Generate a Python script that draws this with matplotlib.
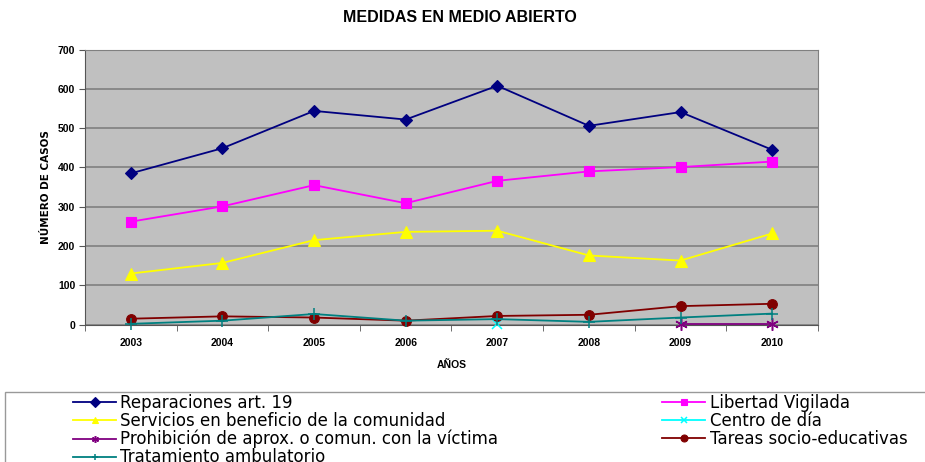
import matplotlib
matplotlib.use("Agg")
import matplotlib.pyplot as plt
from matplotlib.patches import Rectangle
from matplotlib import font_manager
import numpy as np

years = ["2003", "2004", "2005", "2006", "2007", "2008", "2009", "2010"]
reparaciones = [385, 449, 544, 522, 608, 506, 541, 445]
libertad = [262, 301, 355, 309, 366, 390, 401, 415]
servicios = [130, 157, 215, 236, 239, 176, 163, 232]
centro_dia = [None, None, None, None, 1, None, None, None]
prohibicion = [None, None, None, None, None, None, 2, 2]
tareas = [15, 21, 18, 10, 22, 25, 47, 53]
tratamiento = [2, 10, 27, 10, 14, 7, 18, 28]

series = [
    ("Reparaciones art. 19", reparaciones, "#000080", "D", 6),
    ("Libertad Vigilada", libertad, "#FF00FF", "s", 7),
    ("Servicios en beneficio de la comunidad", servicios, "#FFFF00", "^", 8),
    ("Centro de día", centro_dia, "#00FFFF", "x", 7),
    ("Prohibición de aprox. o comun. con la víctima", prohibicion, "#800080", (6, 2, 0), 9),
    ("Tareas socio-educativas", tareas, "#800000", "o", 7),
    ("Tratamiento ambulatorio", tratamiento, "#008080", "+", 9),
]

fig = plt.figure(figsize=(9.25, 4.62), dpi=100)
ax = fig.add_axes([0.0919, 0.2974, 0.7924, 0.5952])
ax.set_facecolor("#C0C0C0")

x = np.arange(len(years))
handles = {}
for name, vals, col, mk, ms in series:
    y = np.array([np.nan if v is None else v for v in vals], dtype=float)
    thin = mk in ("x", "+") or isinstance(mk, tuple)
    h, = ax.plot(x, y, color=col, marker=mk, markersize=ms, linewidth=1.3,
                 markeredgewidth=1.1 if thin else 0.8,
                 markeredgecolor=col, markerfacecolor=col, clip_on=False, zorder=3)
    handles[name] = h

ax.set_xlim(-0.5, len(years) - 0.5)
ax.set_ylim(0, 700)
ax.set_yticks(np.arange(0, 701, 100))
ax.yaxis.grid(True, color="#808080", linewidth=1.2)
ax.set_axisbelow(True)
ax.set_xticks(x)
ax.set_xticklabels(years, fontsize=7.5, fontweight="bold", family="Liberation Sans")
ax.set_xticks(np.arange(-0.5, len(years), 1), minor=True)
ax.tick_params(axis="x", which="major", length=0, pad=10)
ax.tick_params(axis="x", which="minor", length=4, color="#555555", direction="out")
ax.tick_params(axis="y", length=4, color="#555555", labelsize=7.5, pad=3)
for lab in ax.get_yticklabels():
    lab.set_fontweight("bold")
    lab.set_family("Liberation Sans")
for s in ["top", "right"]:
    ax.spines[s].set_color("#808080")
ax.spines["left"].set_color("#555555")
ax.spines["bottom"].set_color("#555555")

ax.set_ylabel("NÚMERO DE CASOS", fontsize=7.5, fontweight="bold", family="DejaVu Sans",
              labelpad=5)
ax.set_xlabel("AÑOS", fontsize=7.5, fontweight="bold", family="Liberation Sans", labelpad=8)
fig.text(0.497, 0.962, "MEDIDAS EN MEDIO ABIERTO", ha="center", va="center",
         fontsize=11.5, fontweight="bold", family="Liberation Sans")

# legend box
fig.patches.append(Rectangle((5 / 925, -0.05), 1.0, 1 - 392 / 462 + 0.05,
                             transform=fig.transFigure, fill=False,
                             edgecolor="#999999", linewidth=1.0))
col1 = ["Reparaciones art. 19", "Servicios en beneficio de la comunidad",
        "Prohibición de aprox. o comun. con la víctima", "Tratamiento ambulatorio"]
col2 = ["Libertad Vigilada", "Centro de día", "Tareas socio-educativas"]
props = font_manager.FontProperties(family="DejaVu Sans", size=12)
common = dict(loc="upper left", frameon=False, prop=props, handlelength=2.6,
              handletextpad=0.25, labelspacing=0.0, borderpad=0.0, borderaxespad=0)
leg1 = fig.legend([handles[n] for n in col1], col1,
                  bbox_to_anchor=(73 / 925, 1 - 394 / 462), **common)
leg2 = fig.legend([handles[n] for n in col2], col2,
                  bbox_to_anchor=(662 / 925, 1 - 394 / 462), **common)
for leg in (leg1, leg2):
    for lh in leg.legend_handles:
        lh.set_markersize(5)

fig.savefig("out.png", dpi=100)
